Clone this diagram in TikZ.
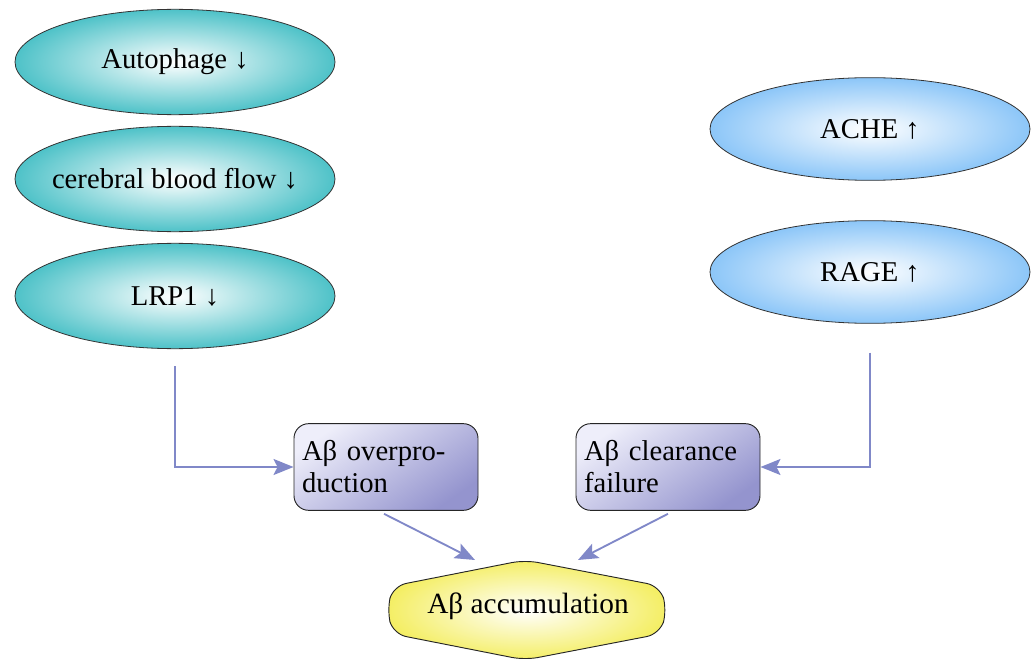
\documentclass[tikz,border=0pt]{standalone}
\usepackage{fontspec}
\setmainfont{Liberation Serif}
\usetikzlibrary{shapes.geometric,arrows.meta,calc}
\definecolor{tealc}{RGB}{78,194,200}
\definecolor{bluec}{RGB}{140,198,248}
\definecolor{boxdark}{RGB}{148,148,206}
\definecolor{boxlight}{RGB}{238,238,250}
\definecolor{yellc}{RGB}{244,238,100}
\definecolor{arrc}{RGB}{128,136,200}
\tikzset{
  tealell/.style={ellipse, draw=black!80, line width=0.6pt, minimum width=240pt, minimum height=79pt, inner sep=0pt, inner color=white, outer color=tealc, font=\fontsize{21.5}{25}\selectfont},
  blueell/.style={ellipse, draw=black!80, line width=0.6pt, minimum width=240pt, minimum height=77pt, inner sep=0pt, inner color=white, outer color=bluec, font=\fontsize{21.5}{25}\selectfont},
  abox/.style={rectangle, rounded corners=11pt, draw=black!85, line width=0.7pt, minimum width=137pt, minimum height=65pt, inner sep=6pt, align=left, text width=126pt, top color=boxlight, bottom color=boxdark, shading angle=35, font=\fontsize{21.5}{24}\selectfont},
  conn/.style={draw=arrc, line width=1.4pt, -{Stealth[length=15pt,width=12pt,inset=3pt]}},
}
\begin{document}
\begin{tikzpicture}[x=0.75pt,y=-0.75pt]
\useasboundingbox (0,0) rectangle (1033,660);
% left ellipses
\node[tealell] (auto) at (175,62) {\makebox[0pt]{Autophage ↓}};
\node[tealell] (cbf) at (175,179) {\makebox[0pt]{cerebral blood flow ↓}};
\node[tealell] (lrp) at (175,296) {\makebox[0pt]{LRP1 ↓}};
% right ellipses
\node[blueell] (ache) at (870,129) {\makebox[0pt]{ACHE ↑}};
\node[blueell] (rage) at (870,272) {\makebox[0pt]{RAGE ↑}};
% boxes
\node[abox] (over) at (386,467) {Aβ overpro-\\duction};
\node[abox] (clear) at (668,467) {Aβ clearance\\failure};
% hexagon
\path[draw=black!85, line width=0.7pt, rounded corners=10pt, inner color=white, outer color=yellc]
  (525,560) -- (660,586) -- (667,610) -- (660,634) -- (525,660) -- (393,634) -- (387,610) -- (393,586) -- cycle;
\node[font=\fontsize{22}{26}\selectfont] (acc) at (528,606) {Aβ accumulation};
% connectors
\coordinate (lstart) at ($(lrp.south)+(0,17)$);
\coordinate (rstart) at ($(rage.south)+(0,29)$);
\draw[conn] (lstart) |- (over.west);
\draw[conn] (rstart) |- (clear.east);
\coordinate (accL) at (475,560);
\coordinate (accR) at (578,560);
\draw[conn] ($(over.south)+(-2,3)$) -- (accL);
\draw[conn] ($(clear.south)+(0,3)$) -- (accR);
\end{tikzpicture}
\end{document}
